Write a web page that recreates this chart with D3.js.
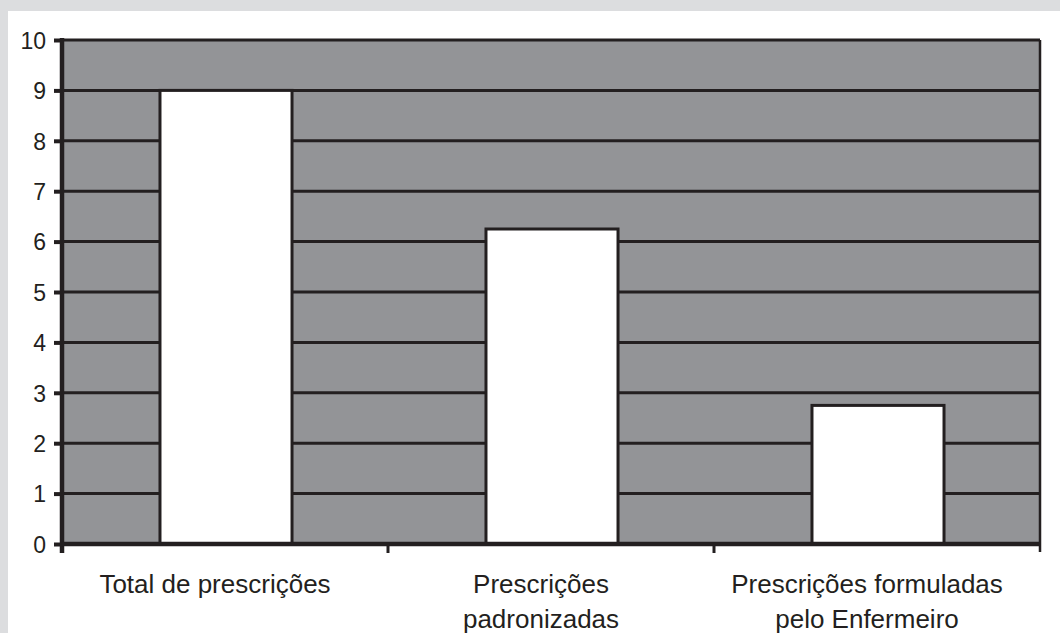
<!DOCTYPE html>
<html>
<head>
<meta charset="utf-8">
<script src="https://cdn.jsdelivr.net/npm/d3@7"></script>
<style>
  html, body { margin: 0; padding: 0; background: #dcdddf; }
  svg { display: block; }
  text { font-family: "Liberation Sans", Arial, sans-serif; fill: #231f20; }
</style>
</head>
<body>
<svg id="chart" width="1060" height="633"></svg>
<script>
// data
const categories = [
    ["Total de prescrições"],
    ["Prescrições", "padronizadas"],
    ["Prescrições formuladas", "pelo Enfermeiro"]
];
const values = [9, 6.25, 2.75];
const yTicks = [0, 1, 2, 3, 4, 5, 6, 7, 8, 9, 10];

const svg = d3.select("#chart");
const W = 1060, H = 633;
const margin = {top: 40, right: 20, bottom: 89, left: 62};
const width = 1040 - margin.left;
const height = 544 - margin.top;
const ink = "#231f20";

// white panel
svg.append("rect").attr("x", 8).attr("y", 11).attr("width", W - 8).attr("height", H - 11).attr("fill", "#fff");

const g = svg.append("g").attr("transform", "translate(" + margin.left + "," + margin.top + ")");

const keys = categories.map((d, i) => i);
const x = d3.scaleBand().domain(keys).range([0, width]).padding(0);
const y = d3.scaleLinear().domain([0, 10]).range([height, 0]);

// plot background
g.append("rect").attr("width", width).attr("height", height).attr("fill", "#939497");

// gridlines
g.append("g").selectAll("line")
    .data(yTicks.filter(d => d > 0))
    .enter().append("line")
    .attr("x1", 0).attr("x2", width)
    .attr("y1", d => y(d)).attr("y2", d => y(d))
    .attr("stroke", ink).attr("stroke-width", 3);

// right border
g.append("line")
    .attr("x1", width).attr("x2", width)
    .attr("y1", 0).attr("y2", height + 8)
    .attr("stroke", ink).attr("stroke-width", 2.5);

// bars
const barFrac = 0.405;
g.append("g").selectAll("rect")
    .data(values)
    .enter().append("rect")
    .attr("x", (d, i) => x(i) + x.bandwidth() * (1 - barFrac) / 2 + 1)
    .attr("width", x.bandwidth() * barFrac)
    .attr("y", d => y(d))
    .attr("height", d => height - y(d))
    .attr("fill", "#fff")
    .attr("stroke", ink).attr("stroke-width", 3);

// y axis
const yAxis = g.append("g")
    .call(d3.axisLeft(y).tickValues(yTicks).tickSize(8).tickPadding(8));
yAxis.select(".domain").remove();
yAxis.selectAll(".tick line").attr("stroke", ink).attr("stroke-width", 4);
yAxis.selectAll(".tick text")
    .attr("font-size", 23).attr("font-family", null).attr("fill", ink).attr("dy", "0.36em");
g.append("line")
    .attr("x1", 0).attr("x2", 0).attr("y1", -2).attr("y2", height + 9)
    .attr("stroke", ink).attr("stroke-width", 4.5);

// x axis
g.append("line")
    .attr("x1", 0).attr("x2", width).attr("y1", height).attr("y2", height)
    .attr("stroke", ink).attr("stroke-width", 4.5);
g.append("g").selectAll("line")
    .data(keys.slice(1))
    .enter().append("line")
    .attr("x1", d => x(d)).attr("x2", d => x(d))
    .attr("y1", height).attr("y2", height + 9)
    .attr("stroke", ink).attr("stroke-width", 3);

// category labels
const labels = g.append("g").selectAll("text")
    .data(categories)
    .enter().append("text")
    .attr("x", (d, i) => x(i) + x.bandwidth() / 2 - 10)
    .attr("y", height + 49)
    .attr("text-anchor", "middle")
    .attr("font-size", 26);
labels.selectAll("tspan")
    .data(d => d)
    .enter().append("tspan")
    .attr("x", function () { return this.parentNode.getAttribute("x"); })
    .attr("dy", (d, i) => i === 0 ? 0 : 35)
    .text(d => d);
</script>
</body>
</html>
